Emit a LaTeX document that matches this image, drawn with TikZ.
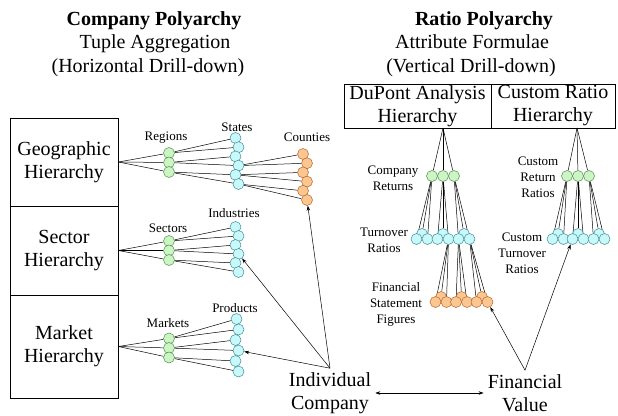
\documentclass[tikz,border=0pt]{standalone}
\usepackage{fontspec}
\setmainfont{Liberation Serif}
\usetikzlibrary{arrows.meta,backgrounds}

\definecolor{grnfill}{HTML}{CCF5C4}
\definecolor{grndraw}{HTML}{4E8A4E}
\definecolor{cynfill}{HTML}{C8F8FA}
\definecolor{cyndraw}{HTML}{3A8C98}
\definecolor{orgfill}{HTML}{FBC690}
\definecolor{orgdraw}{HTML}{B0662A}

\tikzset{
  leaf/.style={draw, circle, minimum size=11pt, inner sep=0pt, line width=0.5pt},
  grn/.style={leaf, fill=grnfill, draw=grndraw},
  cyn/.style={leaf, fill=cynfill, draw=cyndraw},
  org/.style={leaf, fill=orgfill, draw=orgdraw},
  hier/.style={draw, rectangle, inner sep=0pt, line width=0.7pt, align=center, font=\fontsize{20}{23}\selectfont},
  big/.style={align=center, inner sep=4pt, font=\fontsize{20}{24}\selectfont},
  lbl/.style={align=center, inner sep=1pt, font=\fontsize{13}{16}\selectfont},
  twig/.style={draw, line width=0.5pt},
  arr/.style={draw, line width=0.5pt, -{Stealth[length=5pt,width=3.5pt]}},
}

\begin{document}
\begin{tikzpicture}[x=1pt,y=-1pt]
\useasboundingbox (0,0) rectangle (618,415);

% titles
\node[big, anchor=base, font=\fontsize{20}{24}\selectfont\bfseries] (ctitle) at (154,25) {Company Polyarchy};
\node[big, anchor=base] (csub) at (155,48) {Tuple Aggregation};
\node[big, anchor=base] (cdrill) at (148,72) {(Horizontal Drill-down)};
\node[big, anchor=base, font=\fontsize{20}{24}\selectfont\bfseries] (rtitle) at (484,25) {Ratio Polyarchy};
\node[big, anchor=base] (rsub) at (472,48) {Attribute Formulae};
\node[big, anchor=base] (rdrill) at (471,72) {(Vertical Drill-down)};

% hierarchy boxes
\node[hier, minimum width=108pt, minimum height=88pt] (geo) at (64,162) {Geographic\\Hierarchy};
\node[hier, minimum width=108pt, minimum height=89pt] (sector) at (64,250.5) {Sector\\Hierarchy};
\node[hier, minimum width=108pt, minimum height=103pt] (market) at (64,346.5) {Market\\Hierarchy};
\node[hier, minimum width=147pt, minimum height=44pt] (dupont) at (417.5,106) {DuPont Analysis\\Hierarchy};
\node[hier, minimum width=124pt, minimum height=44pt] (custom) at (553,106) {Custom Ratio\\Hierarchy};

\coordinate (dproot) at (443,128);
\coordinate (cuproot) at (577,128);

% geographic
\foreach \i/\y in {1/153,2/162.5,3/172} \node[grn] (reg\i) at (169,\y) {};
\foreach \i/\x/\y in {1/235.5/138,2/238.5/147.2,3/235.5/156.4,4/238.5/165.6,5/235.5/174.8,6/238.5/184}
  \node[cyn] (sta\i) at (\x,\y) {};
\foreach \i/\x/\y in {1/303/154,2/307/163.2,3/303/172.4,4/307/181.6,5/303/190.8,6/307/200}
  \node[org] (cou\i) at (\x,\y) {};

% sector
\foreach \i/\y in {1/241,2/250.5,3/260} \node[grn] (sec\i) at (169,\y) {};
\foreach \i/\x/\y in {1/235.5/227,2/238.5/236,3/235.5/245,4/238.5/254,5/235.5/263,6/238.5/272}
  \node[cyn] (ind\i) at (\x,\y) {};

% market
\foreach \i/\y in {1/338.5,2/348,3/357.5} \node[grn] (mkt\i) at (169,\y) {};
\foreach \i/\x/\y in {1/236.5/319,2/238.5/329.5,3/235.5/340,4/238.5/350.5,5/235.5/361,6/238.5/371.5}
  \node[cyn] (prd\i) at (\x,\y) {};

% dupont
\foreach \i/\x in {1/432,2/443,3/454} \node[grn] (ret\i) at (\x,176) {};
\foreach \i/\x/\y in {2/422/234,1/416.5/239,3/427.5/239,5/443/234,4/437.5/239,6/448.5/239,8/464/234,7/458.5/239,9/469.5/239}
  \node[cyn] (tur\i) at (\x,\y) {};
\foreach \i/\x/\y in {2/441/297,1/435.5/302,3/446.5/302,5/461.5/297,4/456/302,6/467/302,8/482/297,7/476.5/302,9/487.5/302}
  \node[org] (fin\i) at (\x,\y) {};

% custom ratios
\foreach \i/\x in {1/567,2/578,3/589} \node[grn] (cret\i) at (\x,176) {};
\foreach \i/\x/\y in {2/558/234,1/552.5/239,3/563.5/239,5/578/234,4/572.5/239,6/583.5/239,8/599/234,7/593.5/239,9/604.5/239}
  \node[cyn] (ctur\i) at (\x,\y) {};

% labels
\node[lbl] (lregions) at (166,138) {Regions};
\node[lbl] (lstates) at (237,127) {States};
\node[lbl] (lcounties) at (307,137) {Counties};
\node[lbl] (lsectors) at (168,228) {Sectors};
\node[lbl] (lindustries) at (234,213) {Industries};
\node[lbl] (lmarkets) at (168,323) {Markets};
\node[lbl] (lproducts) at (235,308) {Products};
\node[lbl] (lreturns) at (393,178) {Company\\Returns};
\node[lbl] (lturnover) at (384,240) {Turnover\\Ratios};
\node[lbl] (lfigures) at (396,304) {Financial\\Statement\\Figures};
\node[lbl] (lcreturn) at (538,177) {Custom\\Return\\Ratios};
\node[lbl] (lcturn) at (522,253) {Custom\\Turnover\\Ratios};

\node[big, font=\fontsize{20}{23}\selectfont] (indiv) at (330,393) {Individual\\Company};
\node[big, font=\fontsize{20}{23}\selectfont] (finval) at (525,393) {Financial\\Value};

\begin{scope}[on background layer]
\foreach \g in {1,2,3} {
  \path[twig] (geo.east) -- (reg\g);
  \path[twig] (sector.east) -- (sec\g);
  \path[twig] (market.east) -- (mkt\g);
  \path[twig] (dproot) -- (ret\g);
  \path[twig] (cuproot) -- (cret\g);
}
\foreach \g/\c in {1/1,1/2,2/3,2/4,3/5,3/6} {
  \path[twig] (reg\g) -- (sta\c);
  \path[twig] (sec\g) -- (ind\c);
  \path[twig] (mkt\g) -- (prd\c);
}
\foreach \s/\c in {4/1,4/2,5/3,5/4,6/5,6/6}
  \path[twig] (sta\s) -- (cou\c);
\foreach \g/\c in {1/1,1/2,1/3,2/4,2/5,2/6,3/7,3/8,3/9} {
  \path[twig] (ret\g) -- (tur\c);
  \path[twig] (cret\g) -- (ctur\c);
}
\foreach \t/\c in {6/1,6/2,6/3,7/4,7/5,7/6,9/7,9/8,9/9}
  \path[twig] (tur\t) -- (fin\c);
\end{scope}

% drill-down arrows
\path[arr] (indiv.north) -- (cou6);
\path[arr] (indiv.north) -- (ind4);
\path[arr] (indiv.north) -- (prd4);
\path[arr] (finval.north) -- (fin9);
\path[arr] (finval.north) -- (ctur4);
\path[draw, line width=0.5pt, {Stealth[length=5pt,width=3.5pt]}-{Stealth[length=5pt,width=3.5pt]}] (indiv) -- (finval);
\end{tikzpicture}
\end{document}
